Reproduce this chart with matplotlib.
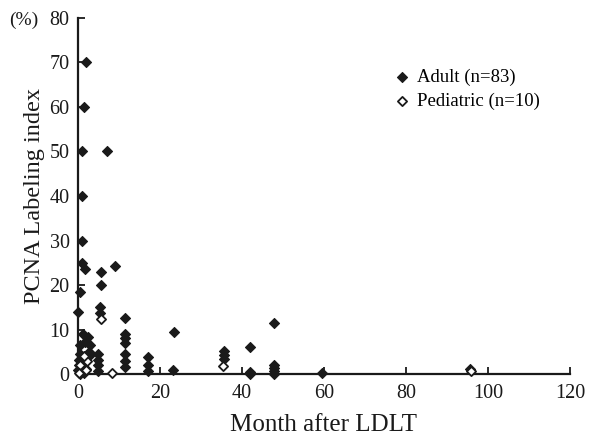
import numpy as np
import matplotlib
matplotlib.use("Agg")
import matplotlib.pyplot as plt

plt.rcParams['font.family'] = ['Liberation Serif', 'DejaVu Serif']

# Adult patients (filled diamonds): month after LDLT, PCNA labeling index (%)
adult_month = [2, 1.5, 1, 7, 1, 1, 1, 1.7, 5.7, 9, 5.7, 0.5, 0, 5.5, 5.5,
               11.4, 23.5, 11.4, 11.4, 11.4, 11.4, 11.4, 11.4,
               1.3, 2.5, 1.7, 2.9, 0.5, 2.7, 3.3, 0.5, 0.3, 0.8, 0.2, 1.2, 0, 0.6,
               1.5, 2, 0.4,
               4.9, 4.9, 4.9, 4.9, 17, 17, 17,
               23.1, 35.7, 35.7, 35.7, 41.9, 41.9, 41.9,
               47.8, 47.8, 47.8, 47.8, 47.8, 59.5, 95.7]
adult_pcna = [70, 60, 50, 50, 40, 30, 25, 23.5, 23, 24.3, 20, 18.5, 14, 15, 13.7,
              12.5, 9.5, 9, 8, 7, 4.6, 3, 1.5,
              9, 8.4, 7.3, 6.5, 6.5, 5, 4.6, 4.6, 3.2, 2.5, 2, 1.5, 1, 0.5,
              0.3, 1.2, 0,
              4.6, 3.2, 2, 0.6, 3.8, 2, 0.7,
              0.9, 5.2, 4.2, 3.4, 6.1, 0.5, 0,
              11.5, 2.1, 1.4, 0.7, 0, 0.2, 1.2]

# Pediatric patients (open diamonds)
ped_month = [5.6, 2.3, 8.2, 35.4, 95.8, 1.0, 0.5, 1.5, 0.2, 2.0]
ped_pcna = [12.3, 3.0, 0.3, 1.9, 0.6, 0.8, 2.0, 4.0, 0.2, 1.0]

fig = plt.figure(figsize=(5.9, 4.38), dpi=100)
ax = fig.add_axes([0.132, 0.146, 0.834, 0.813])

ax.scatter(adult_month, adult_pcna, marker='D', s=26, c='#1a1a1a',
           edgecolors='#1a1a1a', linewidths=0.8, clip_on=False, zorder=3,
           label='Adult (n=83)')
ax.scatter(ped_month, ped_pcna, marker='D', s=22, facecolors='white',
           edgecolors='#1a1a1a', linewidths=1.3, clip_on=False, zorder=4,
           label='Pediatric (n=10)')

ax.set_xlim(0, 120)
ax.set_ylim(0, 80)
ax.set_xticks(range(0, 121, 20))
ax.set_yticks(range(0, 81, 10))
for s in ['top', 'right']:
    ax.spines[s].set_visible(False)
for s in ['left', 'bottom']:
    ax.spines[s].set_linewidth(1.6)
    ax.spines[s].set_color('#1a1a1a')
ax.tick_params(direction='in', length=5, width=1.3, labelsize=14.5,
               colors='#1a1a1a')
ax.tick_params(axis='x', pad=7)
ax.tick_params(axis='y', pad=6)

ax.set_xlabel('Month after LDLT', fontsize=18, color='#1a1a1a')
ax.set_ylabel('PCNA Labeling index', fontsize=17.5, color='#1a1a1a')
ax.xaxis.set_label_coords(0.5, -0.112)
ax.yaxis.set_label_coords(-0.066, 0.5)
fig.text(0.015, 0.943, '(%)', fontsize=14, color='#1a1a1a')

ax.legend(loc='upper left', bbox_to_anchor=(0.62, 0.885), frameon=False,
          fontsize=13.5, handletextpad=0.3, labelspacing=0.4,
          borderpad=0, handlelength=1.0)

fig.savefig('out.png', dpi=100)
